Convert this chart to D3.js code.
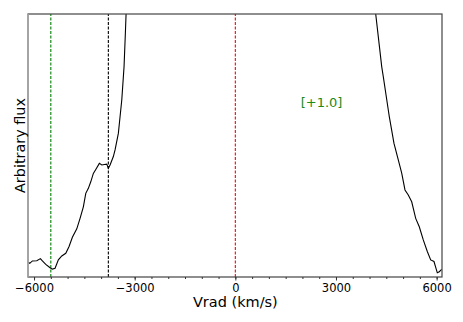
<!DOCTYPE html>
<html>
<head>
<meta charset="utf-8">
<script src="https://cdn.jsdelivr.net/npm/d3@7"></script>
<style>
  body { margin: 0; background: #fff; }
  svg { display: block; font-family: "DejaVu Sans", sans-serif; }
</style>
</head>
<body>
<div id="chart"></div>
<script>
// Spectrum around the line (velocity in km/s, arbitrary flux)
const velocity = [-6176, -6127, -6049, -5918, -5811, -5751, -5650, -5522, -5453, -5373,
  -5275, -5173, -5054, -4956, -4857, -4726, -4628, -4530, -4458, -4381,
  -4309, -4232, -4160, -4053, -3981, -3904, -3832, -3785, -3734, -3636,
  -3585, -3487, -3385, -3317, -3278, -3257, -3242,
  4169, 4184, 4363, 4410, 4559, 4589, 4729, 4857, 4959, 5057,
  5155, 5257, 5376, 5483, 5602, 5722, 5823, 5921, 6020, 6079, 6151];
const flux = [0.056, 0.052, 0.061, 0.062, 0.070, 0.061, 0.048, 0.035, 0.030, 0.033,
  0.065, 0.080, 0.090, 0.116, 0.151, 0.183, 0.223, 0.267, 0.318, 0.337,
  0.362, 0.394, 0.409, 0.432, 0.426, 0.428, 0.429, 0.413, 0.426, 0.458,
  0.483, 0.546, 0.673, 0.800, 0.926, 0.999, 1.05,
  1.05, 1.0, 0.800, 0.762, 0.635, 0.610, 0.508, 0.445, 0.395, 0.331,
  0.312, 0.286, 0.223, 0.191, 0.141, 0.097, 0.065, 0.059, 0.016, 0.020, 0.029];

// Reference velocities of the marked lines
const markers = [
  { v: -5500, color: "#008000" },
  { v: -3785, color: "#000" },
  { v: 0, color: "#ff0000" }
];
const majorTicks = [-6000, -3000, 0, 3000, 6000];
const minorTicks = d3.range(-6000, 6001, 500);
const offsetLabel = "[+1.0]";

const width = 463, height = 322;
const margin = { top: 14, right: 21, bottom: 45, left: 28 };

const svg = d3.select("#chart").append("svg")
  .attr("width", width).attr("height", height);

const x = d3.scaleLinear([-6180, 6160], [margin.left, width - margin.right]);
const y = d3.scaleLinear([0, 1], [height - margin.bottom, margin.top]);

svg.append("clipPath").attr("id", "clip")
  .append("rect")
  .attr("x", margin.left).attr("y", margin.top)
  .attr("width", width - margin.left - margin.right)
  .attr("height", height - margin.top - margin.bottom);

const plot = svg.append("g").attr("clip-path", "url(#clip)");

// marker lines
plot.selectAll("line.marker")
  .data(markers)
  .join("line")
  .classed("marker", true)
  .attr("x1", d => x(d.v)).attr("x2", d => x(d.v))
  .attr("y1", y(0)).attr("y2", y(1))
  .attr("stroke", d => d.color)
  .attr("stroke-width", 1.1)
  .attr("stroke-dasharray", "3,1.5");

// spectrum
const points = velocity.map((v, i) => [v, flux[i]]);
plot.append("path")
  .datum(points)
  .attr("fill", "none")
  .attr("stroke", "#000")
  .attr("stroke-width", 1.1)
  .attr("d", d3.line().x(d => x(d[0])).y(d => y(d[1])));

// frame
svg.append("rect")
  .attr("x", margin.left).attr("y", margin.top)
  .attr("width", width - margin.left - margin.right)
  .attr("height", height - margin.top - margin.bottom)
  .attr("fill", "none").attr("stroke", "#444").attr("stroke-width", 1.2);
svg.append("line")
  .attr("x1", margin.left).attr("x2", margin.left)
  .attr("y1", margin.top).attr("y2", height - margin.bottom)
  .attr("stroke", "#aaa").attr("stroke-width", 1.6);

// x axis
const axisG = svg.append("g")
  .attr("transform", `translate(0, ${height - margin.bottom})`);
axisG.call(d3.axisBottom(x).tickValues(minorTicks).tickSize(2).tickFormat(""))
  .call(g => g.select(".domain").remove());
const axisMajor = svg.append("g")
  .attr("transform", `translate(0, ${height - margin.bottom})`)
  .call(d3.axisBottom(x).tickValues(majorTicks).tickSize(3.5).tickPadding(3)
    .tickFormat(d => d < 0 ? "\u2212" + Math.abs(d) : d));
axisMajor.select(".domain").remove();
axisMajor.selectAll("text").attr("font-size", 11.5).attr("fill", "#000")
  .attr("font-family", "DejaVu Sans, sans-serif");
svg.selectAll(".tick line").attr("stroke", "#333");

// labels
svg.append("text")
  .attr("x", x(0)).attr("y", 306.5)
  .attr("text-anchor", "middle").attr("font-size", 14.5)
  .text("Vrad (km/s)");
svg.append("text")
  .attr("transform", `translate(19.5, ${(margin.top + height - margin.bottom) / 2})rotate(-90)`)
  .attr("text-anchor", "middle").attr("dy", "0.35em").attr("font-size", 14.4)
  .text("Arbitrary flux");
svg.append("text")
  .attr("x", x(2570)).attr("y", 106.5)
  .attr("text-anchor", "middle").attr("font-size", 13).attr("fill", "#1a8a1a")
  .text(offsetLabel);
</script>
</body>
</html>
